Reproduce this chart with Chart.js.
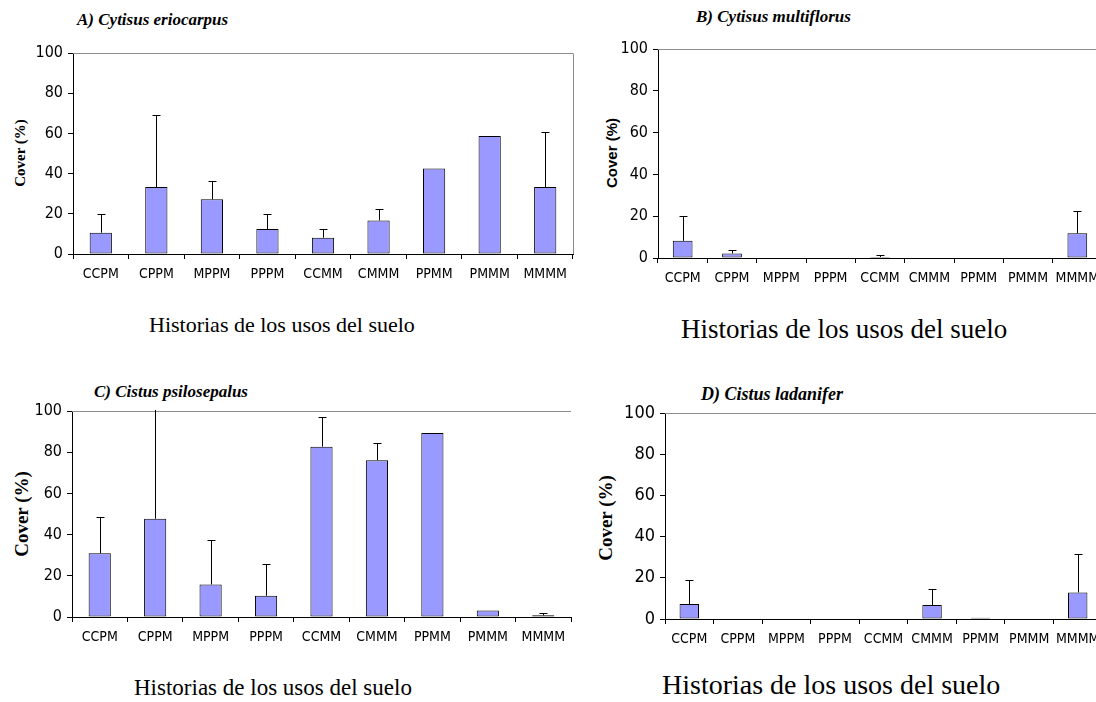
<!DOCTYPE html>
<html>
<head>
<meta charset="utf-8">
<script src="https://cdn.jsdelivr.net/npm/chart.js@4.4.1/dist/chart.umd.min.js"></script>
<style>
  html, body { margin: 0; padding: 0; background: #fff; }
  body { width: 1096px; height: 702px; position: relative; overflow: hidden; }
  canvas { position: absolute; }
  .txt { position: absolute; white-space: nowrap; line-height: 1; color: #000; }
  .ptitle { font: italic bold 17px "Liberation Serif", "Times New Roman", serif; }
  .xtitle { font-family: "Liberation Serif", "Times New Roman", serif; }
  .ytitle { transform: translate(-50%, -50%) rotate(-90deg); font-weight: bold; }
</style>
</head>
<body>

<div class="txt ptitle" style="left:77px; top:10px;">A) Cytisus eriocarpus</div>
<div class="txt ptitle" style="left:696px; top:7px;">B) Cytisus multiflorus</div>
<div class="txt ptitle" style="left:94px; top:382px;">C) Cistus psilosepalus</div>
<div class="txt ptitle" style="left:701px; top:384px; font-size:18px;">D) Cistus ladanifer</div>

<div class="txt ytitle" style="left:20px; top:153px; font-family:'Liberation Serif',serif; font-size:15px;">Cover (%)</div>
<div class="txt ytitle" style="left:611px; top:153px; font-family:'Liberation Sans',Arial,sans-serif; font-size:15px;">Cover (%)</div>
<div class="txt ytitle" style="left:21px; top:514px; font-family:'Liberation Serif',serif; font-size:19px;">Cover (%)</div>
<div class="txt ytitle" style="left:605px; top:518px; font-family:'Liberation Serif',serif; font-size:19px;">Cover (%)</div>

<div class="txt xtitle" style="left:149px; top:314px; font-size:22px;">Historias de los usos del suelo</div>
<div class="txt xtitle" style="left:681px; top:316px; font-size:27px;">Historias de los usos del suelo</div>
<div class="txt xtitle" style="left:134px; top:676px; font-size:23px;">Historias de los usos del suelo</div>
<div class="txt xtitle" style="left:662px; top:671px; font-size:28px;">Historias de los usos del suelo</div>

<canvas id="chartA"></canvas>
<canvas id="chartB"></canvas>
<canvas id="chartC"></canvas>
<canvas id="chartD"></canvas>

<script>
// land-use histories (x categories)
const categories = ['CCPM', 'CPPM', 'MPPM', 'PPPM', 'CCMM', 'CMMM', 'PPMM', 'PMMM', 'MMMM'];
const yTicks = [0, 20, 40, 60, 80, 100];

// cover (%) and error bar length
const eriocarpus = [10.6, 33.3, 27.2, 12.4, 8.1, 16.7, 42.5, 58.7, 33.3];
const eriocarpusErr = [9.1, 35.9, 9.3, 7.3, 4.3, 5.5, 0, 0, 27.2];

const multiflorus = [8.2, 2.2, 0, 0, 0.5, 0, 0, 0, 11.8];
const multiflorusErr = [11.8, 1.8, 0, 0, 1.1, 0, 0, 0, 10.8];

const psilosepalus = [30.9, 47.7, 15.8, 10.3, 82.7, 76.1, 89.3, 3.2, 0.8];
const psilosepalusErr = [17.6, 60, 21.7, 15.4, 14.4, 8.6, 0, 0, 1.3];

const ladanifer = [7.3, 0, 0, 0, 0, 6.8, 0.6, 0, 12.9];
const ladaniferErr = [11.5, 0, 0, 0, 0, 7.8, 0, 0, 18.7];

const NARROW = '"Liberation Sans Narrow", "Arial Narrow", "DejaVu Sans Condensed", sans-serif';

// draws the grey plot frame and the upper error bars
const barExtras = {
    id: 'barExtras',
    beforeDatasetsDraw(chart, args, opts) {
        const { ctx, chartArea } = chart;
        ctx.save();
        ctx.strokeStyle = '#8c8c8c';
        ctx.lineWidth = 1;
        ctx.beginPath();
        const t = Math.round(chartArea.top) + 0.5;
        ctx.moveTo(chartArea.left, t);
        ctx.lineTo(chartArea.right, t);
        if (opts.rightBorder) {
            const r = Math.round(chartArea.right) + 0.5;
            ctx.moveTo(r, t);
            ctx.lineTo(r, chartArea.bottom);
        }
        ctx.stroke();
        ctx.restore();
    },
    afterDatasetsDraw(chart, args, opts) {
        const { ctx, chartArea } = chart;
        const yScale = chart.scales.y;
        const ds = chart.data.datasets[0];
        const meta = chart.getDatasetMeta(0);
        ctx.save();
        ctx.beginPath();
        ctx.rect(chartArea.left, chartArea.top - 1, chartArea.right - chartArea.left, chartArea.bottom - chartArea.top + 1);
        ctx.clip();
        ctx.strokeStyle = '#000';
        ctx.lineWidth = 1;
        meta.data.forEach((bar, i) => {
            const e = ds.errors[i];
            if (!e) return;
            const x = Math.round(bar.x) + 0.5;
            const yTop = Math.round(yScale.getPixelForValue(ds.data[i] + e)) + 0.5;
            ctx.beginPath();
            ctx.moveTo(x, bar.y);
            ctx.lineTo(x, yTop);
            ctx.moveTo(x - 4, yTop);
            ctx.lineTo(x + 4, yTop);
            ctx.stroke();
        });
        ctx.restore();
    }
};

function makePanel(id, cfg) {
    const canvas = document.getElementById(id);
    const padTop = 20, padRight = 10, xAxisH = 42;
    const top = cfg.plotTop - padTop;
    const width = cfg.plotRight - cfg.left + padRight;
    const height = cfg.plotBottom - top + xAxisH;
    canvas.width = width;
    canvas.height = height;
    canvas.style.left = cfg.left + 'px';
    canvas.style.top = top + 'px';
    canvas.style.width = width + 'px';
    canvas.style.height = height + 'px';

    return new Chart(canvas.getContext('2d'), {
        type: 'bar',
        data: {
            labels: categories,
            datasets: [{
                data: cfg.values,
                errors: cfg.errors,
                backgroundColor: '#9999ff',
                borderColor: '#000000',
                borderWidth: 1,
                borderSkipped: false,
                barPercentage: 0.4,
                categoryPercentage: 1
            }]
        },
        options: {
            responsive: false,
            animation: false,
            devicePixelRatio: 1,
            layout: { padding: { top: padTop, right: padRight, left: 0, bottom: 0 } },
            plugins: {
                legend: { display: false },
                tooltip: { enabled: false },
                barExtras: { rightBorder: cfg.rightBorder }
            },
            scales: {
                x: {
                    offset: true,
                    grid: { offset: true, drawOnChartArea: false, tickLength: 5, color: '#000' },
                    border: { color: '#000' },
                    ticks: {
                        color: '#000',
                        font: { family: NARROW, size: cfg.catSize },
                        padding: 7,
                        maxRotation: 0,
                        autoSkip: false
                    },
                    afterFit: s => { s.height = xAxisH; }
                },
                y: {
                    min: 0,
                    max: 100,
                    afterBuildTicks: s => { s.ticks = yTicks.map(v => ({ value: v })); },
                    grid: { drawOnChartArea: false, tickLength: 5, color: '#000' },
                    border: { color: '#000' },
                    ticks: {
                        color: '#000',
                        font: { family: NARROW, size: cfg.tickSize },
                        padding: 5
                    },
                    afterFit: s => { s.width = cfg.axisX - cfg.left; }
                }
            }
        },
        plugins: [barExtras]
    });
}

makePanel('chartA', {
    left: 0, axisX: 73, plotRight: 573, plotTop: 53, plotBottom: 254,
    values: eriocarpus, errors: eriocarpusErr, tickSize: 16, catSize: 14, rightBorder: true
});
makePanel('chartB', {
    left: 580, axisX: 658, plotRight: 1102, plotTop: 49, plotBottom: 258,
    values: multiflorus, errors: multiflorusErr, tickSize: 16, catSize: 14, rightBorder: true
});
makePanel('chartC', {
    left: 0, axisX: 72, plotRight: 571, plotTop: 411, plotBottom: 617,
    values: psilosepalus, errors: psilosepalusErr, tickSize: 16, catSize: 14, rightBorder: false
});
makePanel('chartD', {
    left: 580, axisX: 665, plotRight: 1102, plotTop: 413, plotBottom: 619,
    values: ladanifer, errors: ladaniferErr, tickSize: 18, catSize: 14, rightBorder: false
});
</script>
</body>
</html>
